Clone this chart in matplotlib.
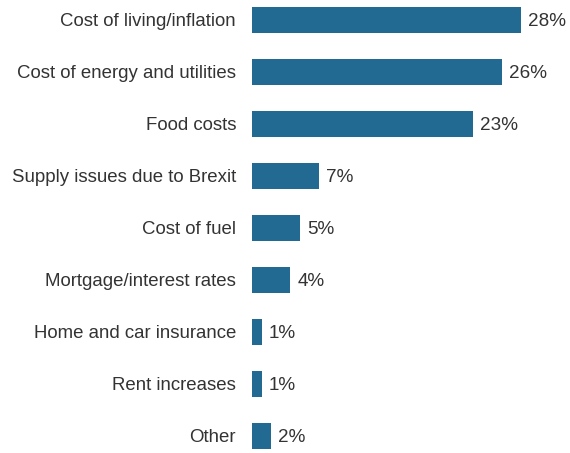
import matplotlib
matplotlib.use("Agg")
import matplotlib.pyplot as plt

categories = ["Cost of living/inflation", "Cost of energy and utilities", "Food costs",
              "Supply issues due to Brexit", "Cost of fuel", "Mortgage/interest rates",
              "Home and car insurance", "Rent increases", "Other"]
values = [28, 26, 23, 7, 5, 4, 1, 1, 2]
value_labels = ["28%", "26%", "23%", "7%", "5%", "4%", "1%", "1%", "2%"]

plt.rcParams['font.family'] = ['Liberation Sans', 'DejaVu Sans']
color = "#226a92"

fig = plt.figure(figsize=(5.7, 4.53), dpi=100)
ax = fig.add_axes([252/570, 0, 1 - 252/570, 1])
y = list(range(len(categories)))
ax.barh(y, values, height=0.5, color=color)
ax.set_xlim(0, 318/9.62)
ax.set_ylim(8 + 17/52, -20/52)
ax.set_yticks(y)
ax.set_yticklabels(categories, fontsize=13.45, color="#333333")
for t in ax.get_yticklabels():
    t.set_verticalalignment('center_baseline')
ax.tick_params(axis='y', length=0, pad=11.5)
ax.set_xticks([])
for s in ax.spines.values():
    s.set_visible(False)
for yi, v, lab in zip(y, values, value_labels):
    ax.annotate(lab, (v, yi), xytext=(7, 0), textcoords='offset pixels',
                va='center_baseline', ha='left', fontsize=13.6, color="#333333")
fig.savefig("out.png", dpi=100)
